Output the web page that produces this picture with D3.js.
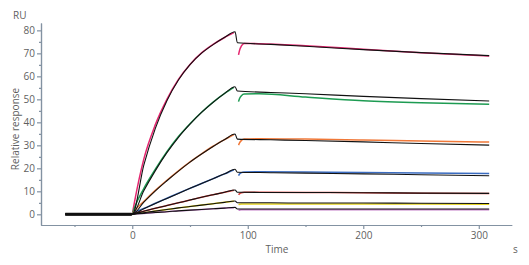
<!DOCTYPE html>
<html>
<head>
<meta charset="utf-8">
<script src="https://cdn.jsdelivr.net/npm/d3@7"></script>
<style>
  body { margin: 0; background: #fff; }
  text { font-family: "Open Sans", sans-serif; fill: #5f5f5f; }
</style>
</head>
<body>
<div id="chart"></div>
<script>
// times (s)
const fitTimes = [-58, -1, 0, 10, 20, 30, 40, 50, 60, 70, 80, 89, 91, 120, 150, 200, 250, 309];
const assocTimes = [0, 2, 10, 20, 30, 40, 50, 60, 70, 80, 88];
const dissocTimes = [92, 93, 94.5, 97, 110, 150, 200, 250, 309];

// black fitted curves (RU), top to bottom
const fitValues = [
  [0.4, 0.4, 0, 21.4, 37.4, 49.4, 58.4, 65.1, 70.1, 73.8, 77.0, 79.4, 74.6, 73.9, 73.1, 71.6, 70.3, 69.0],
  [0.3, 0.3, 0, 10.2, 19.0, 26.8, 33.5, 39.2, 44.3, 48.7, 52.6, 55.5, 53.6, 53.0, 52.4, 51.3, 50.3, 49.3],
  [0.1, 0.1, 0, 5.3, 10.2, 14.6, 18.8, 22.7, 26.2, 29.5, 32.5, 34.9, 32.7, 32.4, 32.1, 31.5, 30.8, 30.1],
  [0, 0, 0, 2.4, 4.7, 6.9, 9.1, 11.3, 13.4, 15.5, 17.6, 19.6, 18.3, 18.1, 17.9, 17.6, 17.2, 16.8],
  [-0.1, -0.1, 0, 1.3, 2.6, 3.8, 5.0, 6.2, 7.4, 8.5, 9.6, 10.6, 9.6, 9.5, 9.5, 9.4, 9.2, 9.1],
  [-0.3, -0.3, 0, 0.7, 1.4, 2.1, 2.8, 3.4, 4.0, 4.6, 5.2, 5.8, 5.0, 5.0, 4.9, 4.9, 4.8, 4.7],
  [-0.4, -0.4, 0, 0.4, 0.8, 1.1, 1.5, 1.8, 2.1, 2.4, 2.7, 3.0, 2.3, 2.3, 2.3, 2.3, 2.3, 2.3]
];

// measured sensorgrams (RU)
const assocValues = [
  [0, 5.5, 24.0, 39.0, 50.0, 58.7, 65.2, 70.2, 73.9, 76.9, 79.0],
  [0, 3.0, 11.2, 19.6, 27.2, 33.8, 39.4, 44.4, 48.8, 52.6, 55.2],
  [0, 1.5, 5.6, 10.4, 14.8, 18.9, 22.8, 26.3, 29.6, 32.5, 34.7],
  [0, 0.8, 2.5, 4.8, 7.0, 9.2, 11.3, 13.4, 15.5, 17.6, 19.4],
  [0, 0.5, 1.3, 2.6, 3.8, 5.0, 6.2, 7.4, 8.5, 9.6, 10.5],
  [0, 0.3, 0.7, 1.4, 2.1, 2.8, 3.4, 4.0, 4.6, 5.2, 5.7],
  [0, 0.2, 0.4, 0.8, 1.1, 1.5, 1.8, 2.1, 2.4, 2.7, 2.9]
];
const dissocValues = [
  [69.3, 71.5, 73.2, 74.3, 74.2, 73.3, 71.8, 70.3, 68.9],
  [49.0, 50.5, 51.6, 52.3, 52.4, 51.0, 49.4, 48.5, 47.9],
  [30.1, 31.2, 32.1, 32.7, 32.9, 32.7, 32.3, 31.9, 31.4],
  [16.8, 17.6, 18.1, 18.4, 18.5, 18.4, 18.2, 18.0, 17.8],
  [8.5, 9.0, 9.4, 9.6, 9.6, 9.5, 9.4, 9.2, 9.1],
  [4.2, 4.4, 4.5, 4.5, 4.5, 4.5, 4.5, 4.5, 4.4],
  [1.7, 1.9, 2.0, 2.0, 2.0, 2.0, 2.0, 2.0, 2.0]
];
const seriesColors = ['#e5266f', '#1d9b52', '#f07838', '#3b6cc0', '#d8403c', '#e3d21c', '#c47fc8'];

const xTicks = [0, 100, 200, 300];
const xMinor = [-50, 50, 150, 250];
const yTicks = [0, 10, 20, 30, 40, 50, 60, 70, 80];
const yMinor = [5, 15, 25, 35, 45, 55, 65, 75];

const width = 529, height = 265;
const axisColor = '#8392a2';

const svg = d3.select('#chart').append('svg')
    .attr('width', width)
    .attr('height', height);

const xScale = d3.scaleLinear().domain([-79, 328.5]).range([41, 511.7]);
const yScale = d3.scaleLinear().domain([-4.65, 83.2]).range([225, 23]);

const line = d3.line()
    .x(d => xScale(d[0]))
    .y(d => yScale(d[1]))
    .curve(d3.curveMonotoneX);

// axes
svg.append('g')
    .attr('transform', `translate(0, ${yScale.range()[0]})`)
    .call(d3.axisBottom(xScale).tickValues(xTicks).tickSize(4).tickPadding(3).tickSizeOuter(0));
svg.append('g')
    .attr('transform', `translate(0, ${yScale.range()[0]})`)
    .call(d3.axisBottom(xScale).tickValues(xMinor).tickSize(2).tickFormat('').tickSizeOuter(0));

svg.append('g')
    .attr('transform', `translate(${xScale.range()[0]}, 0)`)
    .call(d3.axisLeft(yScale).tickValues(yTicks).tickSize(4).tickPadding(2).tickSizeOuter(0));
svg.append('g')
    .attr('transform', `translate(${xScale.range()[0]}, 0)`)
    .call(d3.axisLeft(yScale).tickValues(yMinor).tickSize(2).tickFormat('').tickSizeOuter(0));

svg.selectAll('.domain, .tick line')
    .attr('stroke', axisColor)
    .attr('stroke-width', 1.2);
svg.selectAll('.tick text')
    .style('font-size', '10px')
    .attr('fill', '#5f5f5f');

// labels
svg.append('text').text('RU')
    .attr('x', 13).attr('y', 19)
    .style('font-size', '10px');
svg.append('text').text('Relative response')
    .attr('text-anchor', 'middle')
    .attr('transform', 'translate(19,129) rotate(-90)')
    .style('font-size', '10px');
svg.append('text').text('Time')
    .attr('x', 277).attr('y', 253)
    .attr('text-anchor', 'middle')
    .style('font-size', '10px');
svg.append('text').text('s')
    .attr('x', 513).attr('y', 253)
    .style('font-size', '10px');

// measured data
seriesColors.forEach((c, i) => {
    svg.append('path')
        .datum(assocTimes.map((t, j) => [t, assocValues[i][j]]))
        .attr('d', line)
        .attr('fill', 'none')
        .attr('stroke', c)
        .attr('stroke-width', 1.5);
    svg.append('path')
        .datum(dissocTimes.map((t, j) => [t, dissocValues[i][j]]))
        .attr('d', line)
        .attr('fill', 'none')
        .attr('stroke', c)
        .attr('stroke-width', 1.5);
});

// fits
fitValues.forEach(vals => {
    svg.append('path')
        .datum(fitTimes.map((t, j) => [t, vals[j]]))
        .attr('d', line)
        .attr('fill', 'none')
        .attr('stroke', '#111')
        .attr('stroke-width', 1.1);
});
</script>
</body>
</html>
